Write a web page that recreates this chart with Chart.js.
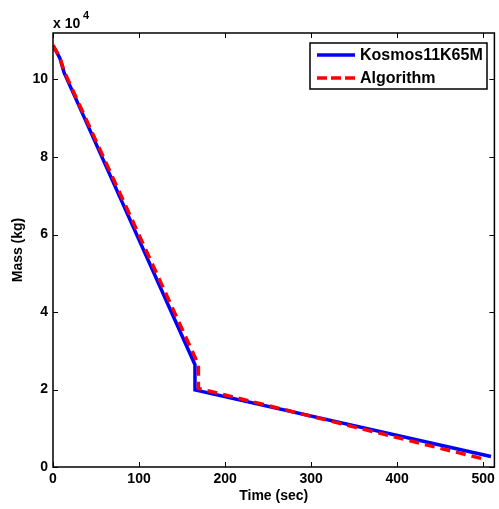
<!DOCTYPE html>
<html>
<head>
<meta charset="utf-8">
<script src="https://cdn.jsdelivr.net/npm/chart.js@4.4.1/dist/chart.umd.min.js"></script>
<style>
    html, body { margin: 0; padding: 0; background: #fff; }
    #wrap { width: 499px; height: 509px; }
</style>
</head>
<body>
<div id="wrap"><canvas id="massChart" width="499" height="509"></canvas></div>
<script>
// values
const seriesNames = ['Kosmos11K65M', 'Algorithm'];
const kosmosTime = [0, 8, 13, 27, 165, 165, 509];
const kosmosMass = [108800, 105500, 101700, 94800, 26400, 19900, 2700];
const algoTime = [0, 8, 13, 27, 169, 169, 498];
const algoMass = [108800, 105700, 102100, 95300, 26400, 20300, 2200];
const xTicks = [0, 100, 200, 300, 400, 500];
const yTicks = [0, 20000, 40000, 60000, 80000, 100000];

const FONT = 'Liberation Sans, Arial, Helvetica, sans-serif';

function toPoints(xs, ys) {
    return xs.map(function (x, i) { return { x: x, y: ys[i] }; });
}

// MATLAB-ish box, inward ticks, exponent label and legend
const matlabBox = {
    id: 'matlabBox',
    afterDraw: function (chart) {
        const ctx = chart.ctx;
        const a = chart.chartArea;
        const xs = chart.scales.x, ys = chart.scales.y;
        ctx.save();
        ctx.strokeStyle = '#000';
        ctx.lineWidth = 1;
        ctx.beginPath();
        xTicks.forEach(function (t) {
            const px = Math.round(xs.getPixelForValue(t)) + 0.5;
            ctx.moveTo(px, a.bottom); ctx.lineTo(px, a.bottom - 5);
            ctx.moveTo(px, a.top); ctx.lineTo(px, a.top + 5);
        });
        yTicks.forEach(function (t) {
            const py = Math.round(ys.getPixelForValue(t)) + 0.5;
            ctx.moveTo(a.left, py); ctx.lineTo(a.left + 5, py);
            ctx.moveTo(a.right, py); ctx.lineTo(a.right - 5, py);
        });
        ctx.stroke();
        ctx.lineWidth = 1.5;
        ctx.strokeRect(a.left, a.top, a.right - a.left, a.bottom - a.top);

        // exponent
        ctx.fillStyle = '#000';
        ctx.textBaseline = 'alphabetic';
        ctx.textAlign = 'left';
        ctx.font = 'bold 14px ' + FONT;
        ctx.fillText('x 10', a.left, a.top - 5);
        ctx.font = 'bold 11px ' + FONT;
        ctx.fillText('4', a.left + 30, a.top - 14);

        // legend
        const lx = 310, ly = 43, lw = 177, lh = 46;
        ctx.fillStyle = '#fff';
        ctx.fillRect(lx, ly, lw, lh);
        ctx.lineWidth = 1.5;
        ctx.strokeStyle = '#000';
        ctx.strokeRect(lx, ly, lw, lh);
        ctx.font = 'bold 16px ' + FONT;
        ctx.textBaseline = 'middle';
        chart.data.datasets.forEach(function (ds, i) {
            const yy = ly + 12 + i * 23;
            ctx.strokeStyle = ds.borderColor;
            ctx.lineWidth = 3.5;
            ctx.setLineDash(ds.borderDash ? [10, 4] : []);
            ctx.beginPath();
            ctx.moveTo(lx + 7, yy);
            ctx.lineTo(lx + 45, yy);
            ctx.stroke();
            ctx.setLineDash([]);
            ctx.fillStyle = '#000';
            ctx.fillText(ds.label, lx + 50, yy + 1);
        });
        ctx.restore();
    }
};

new Chart(document.getElementById('massChart'), {
    type: 'line',
    data: {
        datasets: [{
            label: seriesNames[0],
            data: toPoints(kosmosTime, kosmosMass),
            borderColor: '#0000ff',
            borderWidth: 3.5,
            pointRadius: 0,
            tension: 0,
            order: 2
        }, {
            label: seriesNames[1],
            data: toPoints(algoTime, algoMass),
            borderColor: '#ff0000',
            borderWidth: 3.5,
            borderDash: [10, 6],
            pointRadius: 0,
            tension: 0,
            order: 1
        }]
    },
    plugins: [matlabBox],
    options: {
        responsive: false,
        animation: false,
        layout: { padding: { top: 33, right: 4, left: 0, bottom: 0 } },
        plugins: {
            legend: { display: false },
            tooltip: { enabled: false }
        },
        scales: {
            x: {
                type: 'linear',
                min: 0,
                max: 513,
                afterBuildTicks: function (s) { s.ticks = xTicks.map(function (v) { return { value: v }; }); },
                afterFit: function (s) { s.height = 42; },
                grid: { display: false, drawTicks: false },
                border: { display: false },
                ticks: { color: '#000', font: { family: FONT, size: 14, weight: 'bold' }, padding: 4, maxRotation: 0 },
                title: { display: true, text: 'Time (sec)', color: '#000', font: { family: FONT, size: 14, weight: 'bold' }, padding: { top: 0, bottom: 4 } }
            },
            y: {
                type: 'linear',
                min: 0,
                max: 112000,
                afterBuildTicks: function (s) { s.ticks = yTicks.map(function (v) { return { value: v }; }); },
                afterFit: function (s) { s.width = 53; },
                grid: { display: false, drawTicks: false },
                border: { display: false },
                ticks: {
                    color: '#000',
                    font: { family: FONT, size: 14, weight: 'bold' },
                    padding: 5,
                    callback: function (v) { return String(v / 10000); }
                },
                title: { display: true, text: 'Mass (kg)', color: '#000', font: { family: FONT, size: 14, weight: 'bold' }, padding: { top: 10, bottom: 0 } }
            }
        }
    }
});
</script>
</body>
</html>
